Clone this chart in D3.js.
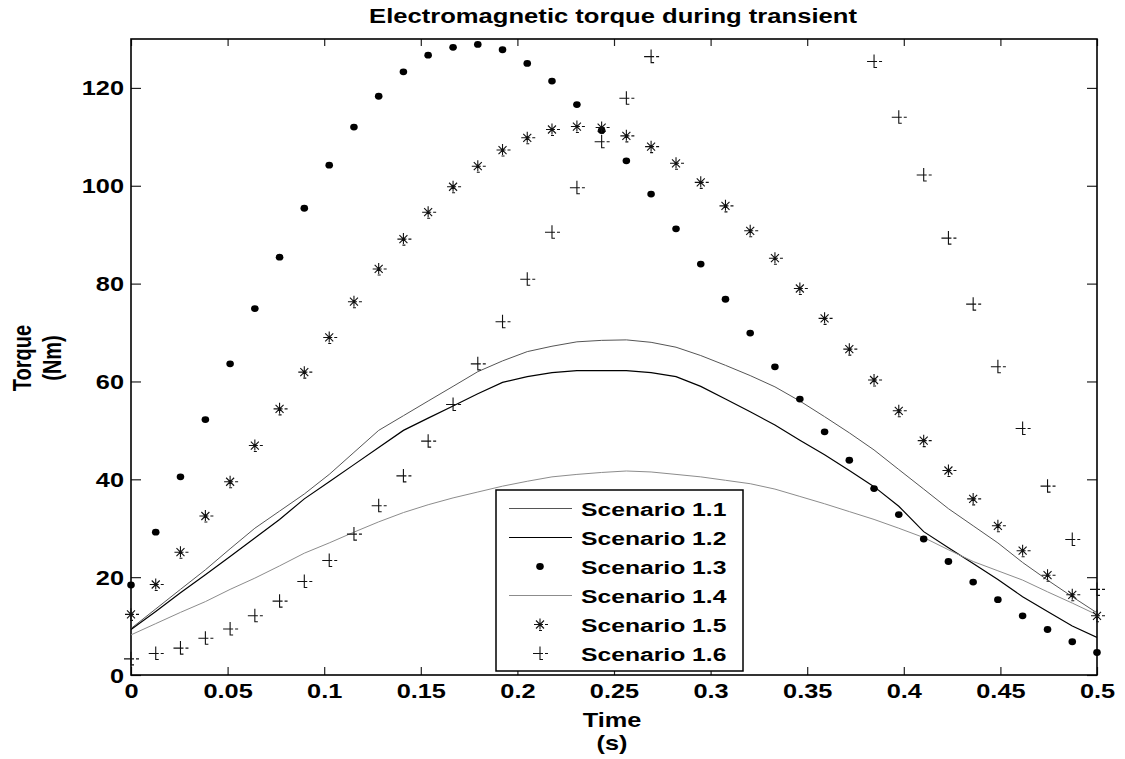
<!DOCTYPE html>
<html><head><meta charset="utf-8">
<script src="https://cdn.jsdelivr.net/npm/d3@7"></script>
<style>
body{margin:0;background:#fff}
text{font-family:"Liberation Sans",Arial,Helvetica,sans-serif;font-weight:bold;fill:#000}
</style>
</head><body>
<svg id="c" width="1125" height="759"></svg>
<script>
// ---------- data ----------
const time = [0,0.0128,0.0256,0.0385,0.0513,0.0641,0.0769,0.0897,0.1026,0.1154,0.1282,0.1410,0.1538,0.1667,0.1795,0.1923,0.2051,0.2179,0.2308,0.2436,0.2564,0.2692,0.2821,0.2949,0.3077,0.3205,0.3333,0.3462,0.3590,0.3718,0.3846,0.3974,0.4103,0.4231,0.4359,0.4487,0.4615,0.4744,0.4872,0.5];
const scenario11 = [9.5,13.5,17.5,21.5,25.8,30,33.5,37,41,45.5,50,53,56,59,62,64.2,66.1,67.2,68.1,68.4,68.5,68.0,67.0,65.3,63.3,61.2,58.9,56,52.8,49.5,46,42,38,34,30.5,27,23,19.4,16,12.7];
const scenario12 = [9.3,13,16.8,20.5,24.2,28,31.8,36,39.5,43,46.5,50,52.5,55,57.5,59.8,61,61.8,62.2,62.2,62.2,61.8,61,59,56.4,53.8,51.1,48,45,41.8,38.5,34.5,29.3,26,22.8,19.5,16,13,10,7.7];
const scenario13 = [18.4,29.2,40.5,52.2,63.6,74.9,85.4,95.4,104.2,112.0,118.3,123.3,126.7,128.3,128.9,127.8,125.0,121.4,116.6,111.3,105.1,98.3,91.2,84.0,76.8,69.9,63.0,56.4,49.7,43.9,38.1,32.8,27.8,23.2,19.0,15.4,12.1,9.3,6.8,4.6];
const scenario14 = [8.2,10.5,12.8,15,17.5,19.8,22.3,24.9,27,29.2,31.3,33.2,34.8,36.2,37.4,38.6,39.6,40.5,41,41.4,41.7,41.5,41,40.5,39.8,39.1,38,36.5,35,33.4,31.8,30,28.1,25.6,23.2,21.3,19.4,17,14.7,12.3];
const scenario15 = [12.4,18.5,25.1,32.5,39.5,46.9,54.4,61.9,69.0,76.3,83.0,89.1,94.6,99.8,104.0,107.3,109.8,111.5,112.1,111.9,110.2,108.0,104.6,100.7,95.9,90.8,85.2,79.0,72.9,66.6,60.3,54.0,47.9,41.8,36.0,30.5,25.4,20.4,16.4,12.1];
// values above the axis top (off the picture) are left as null
const scenario16 = [3.3,4.4,5.5,7.5,9.4,12.1,15.1,19.1,23.4,28.8,34.6,40.7,47.8,55.3,63.6,72.2,80.9,90.5,99.6,109.0,117.9,126.4,null,null,null,null,null,null,null,null,125.4,114.0,102.2,89.3,75.8,63.0,50.4,38.6,27.7,17.5];
const legendLabels = ["Scenario 1.1","Scenario 1.2","Scenario 1.3","Scenario 1.4","Scenario 1.5","Scenario 1.6"];
const xTicks = [0,0.05,0.1,0.15,0.2,0.25,0.3,0.35,0.4,0.45,0.5];
const xTickLabels = ["0","0.05","0.1","0.15","0.2","0.25","0.3","0.35","0.4","0.45","0.5"];
const yTicks = [0,20,40,60,80,100,120];
const yTickLabels = ["0","20","40","60","80","100","120"];
const titleText = "Electromagnetic torque during transient";
const xLabel = ["Time","(s)"];
const yLabel = ["Torque","(Nm)"];

// ---------- layout ----------
const SX = 1.3; // horizontal glyph stretch seen in the reference
const L = 131, R = 1097, T = 39, B = 675;
const svg = d3.select("#c");
const x = d3.scaleLinear().domain([0,0.5]).range([L,R]);
const y = d3.scaleLinear().domain([0,130]).range([B,T]);

svg.append("defs").append("clipPath").attr("id","clip")
  .append("rect").attr("x",L).attr("y",T).attr("width",R-L).attr("height",B-T);

// axes
const gB = svg.append("g").attr("transform",`translate(0,${B})`)
  .call(d3.axisBottom(x).tickValues(xTicks).tickFormat((d,i)=>xTickLabels[i]).tickSizeInner(-8).tickSizeOuter(0));
gB.selectAll("text").attr("y",23).attr("dy",0).attr("font-size",19.5).attr("transform",`scale(${SX},1)`);
const gT = svg.append("g").attr("transform",`translate(0,${T})`)
  .call(d3.axisTop(x).tickValues(xTicks).tickFormat("").tickSizeInner(-7).tickSizeOuter(0));
const gL = svg.append("g").attr("transform",`translate(${L},0)`)
  .call(d3.axisLeft(y).tickValues(yTicks).tickFormat((d,i)=>yTickLabels[i]).tickSizeInner(-10).tickSizeOuter(0));
gL.selectAll("text").attr("x",-7/SX).attr("dy","0.36em").attr("font-size",19.5).attr("transform",`scale(${SX},1)`);
const gR = svg.append("g").attr("transform",`translate(${R},0)`)
  .call(d3.axisRight(y).tickValues(yTicks).tickFormat("").tickSizeInner(-10).tickSizeOuter(0));
[gB,gT,gL,gR].forEach(g=>{g.select(".domain").remove(); g.selectAll("line").attr("stroke","#222").attr("stroke-width",1.2);});

svg.append("rect").attr("x",L).attr("y",T).attr("width",R-L).attr("height",B-T)
  .attr("fill","none").attr("stroke","#000").attr("stroke-width",1.6);

// lines
const lineSeries = [
  {vals:scenario11, color:"#555", w:1},
  {vals:scenario12, color:"#000", w:1.2},
  {vals:scenario14, color:"#8c8c8c", w:1}
];
const lineGen = vals => d3.line().defined((d,i)=>vals[i]!=null).x((d,i)=>x(time[i])).y((d,i)=>y(vals[i]))(vals);
const gLines = svg.append("g").attr("clip-path","url(#clip)");
lineSeries.forEach(s=>{
  gLines.append("path").attr("d",lineGen(s.vals)).attr("fill","none").attr("stroke",s.color).attr("stroke-width",s.w);
});

// marker painters
function dot(g,cx,cy){ g.append("ellipse").attr("cx",cx).attr("cy",cy).attr("rx",3.8).attr("ry",3.4).attr("fill","#000"); }
function star(g,cx,cy){
  const p = `M${cx-6},${cy}H${cx+3} M${cx+5},${cy}H${cx+8} M${cx},${cy-6}V${cy+5} M${cx-4},${cy-4}L${cx+4},${cy+4} M${cx-4},${cy+4}L${cx+4},${cy-4} M${cx-1},${cy+6}H${cx+2}`;
  g.append("path").attr("d",p).attr("stroke","#111").attr("stroke-width",1.1).attr("fill","none");
}
function plus(g,cx,cy){
  const p = `M${cx-7},${cy}H${cx+3} M${cx+5},${cy}H${cx+8} M${cx},${cy-7}V${cy+6}H${cx+3}`;
  g.append("path").attr("d",p).attr("stroke","#111").attr("stroke-width",1.1).attr("fill","none");
}
const gM = svg.append("g");
scenario13.forEach((v,i)=>{ if(v!=null) dot(gM,x(time[i]),y(v)); });
scenario15.forEach((v,i)=>{ if(v!=null) star(gM,x(time[i]),y(v)); });
scenario16.forEach((v,i)=>{ if(v!=null) plus(gM,x(time[i]),y(v)); });

// legend
const lg = svg.append("g");
lg.append("rect").attr("x",496).attr("y",490).attr("width",247).attr("height",181)
  .attr("fill","#fff").attr("stroke","#000").attr("stroke-width",1.5);
const kinds = ["line","line","dot","line","star","plus"];
const lcol = ["#555","#000",null,"#8c8c8c",null,null];
legendLabels.forEach((lab,i)=>{
  const cy = 508.5 + i*29;
  if(kinds[i]==="line") lg.append("line").attr("x1",509).attr("x2",572).attr("y1",cy).attr("y2",cy).attr("stroke",lcol[i]).attr("stroke-width",1);
  else if(kinds[i]==="dot") dot(lg,540,cy);
  else if(kinds[i]==="star") star(lg,540,cy);
  else plus(lg,540,cy);
  lg.append("text").attr("transform",`translate(581,${cy+7}) scale(${SX},1)`).attr("font-size",19).text(lab);
});

// title and axis labels
svg.append("text").attr("transform",`translate(613,23) scale(1.28,1)`).attr("text-anchor","middle").attr("font-size",20).text(titleText);
svg.append("text").attr("transform",`translate(612,727) scale(${SX},1)`).attr("text-anchor","middle").attr("font-size",19.5).text(xLabel[0]);
svg.append("text").attr("transform",`translate(612,750) scale(${SX},1)`).attr("text-anchor","middle").attr("font-size",19.5).text(xLabel[1]);
svg.append("text").attr("transform",`translate(31,358) scale(${SX},1) rotate(-90)`).attr("text-anchor","middle").attr("font-size",20).text(yLabel[0]);
svg.append("text").attr("transform",`translate(61,358) scale(${SX},1) rotate(-90)`).attr("text-anchor","middle").attr("font-size",20).text(yLabel[1]);
</script>
</body></html>
